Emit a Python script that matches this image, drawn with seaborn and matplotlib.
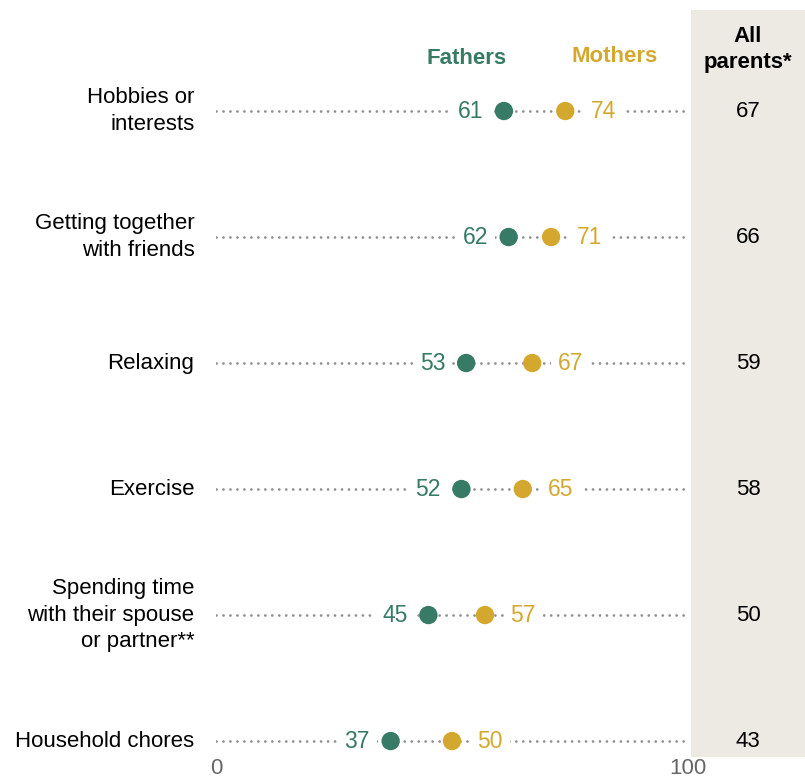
import matplotlib
matplotlib.use("Agg")
import matplotlib.pyplot as plt
from matplotlib.patches import Rectangle
import seaborn as sns
import pandas as pd

categories = [
    "Hobbies or\ninterests",
    "Getting together\nwith friends",
    "Relaxing",
    "Exercise",
    "Spending time\nwith their spouse\nor partner**",
    "Household chores",
]
fathers = [61, 62, 53, 52, 45, 37]
mothers = [74, 71, 67, 65, 57, 50]
all_parents = [67, 66, 59, 58, 50, 43]
x_ticks = [0, 100]

GREEN = "#377A65"
GOLD = "#D4A82F"
PANEL = "#EDEAE3"
FONT = ["Liberation Sans", "DejaVu Sans"]

sns.set_theme(style="white")
plt.rcParams["font.family"] = FONT

df = pd.DataFrame({
    "category": categories * 2,
    "row": list(range(len(categories))) * 2,
    "value": fathers + mothers,
    "group": ["Fathers"] * len(categories) + ["Mothers"] * len(categories),
})

fig = plt.figure(figsize=(8.05, 7.81), dpi=100)
ax = fig.add_axes([216 / 805, 0, 472 / 805, 1])
ax.set_xlim(0, 100)
ax.set_ylim(5.317, -0.881)
ax.axis("off")

# shaded column for the all-parents figures
ax.add_patch(Rectangle((100.6, -0.80), 25, 5.93, facecolor=PANEL,
                       edgecolor="none", clip_on=False, zorder=0))

# dotted guide lines spanning the 0-100 scale
for i in range(len(categories)):
    ax.plot([0, 100], [i, i], color="#8f8f8f", lw=2.0, ls=(0, (0.01, 2.5)),
            zorder=1, dash_capstyle="round")

sns.scatterplot(data=df, x="value", y="row", hue="group",
                palette={"Fathers": GREEN, "Mothers": GOLD},
                s=175, linewidth=0, legend=False, zorder=3, ax=ax)

box = dict(boxstyle="square,pad=0.3", facecolor="white", edgecolor="none")
for i, (f, m, a, cat) in enumerate(zip(fathers, mothers, all_parents, categories)):
    ax.text(f - 4.4, i, str(f), ha="right", va="center", fontsize=16.5,
            color=GREEN, bbox=box, zorder=2)
    ax.text(m + 5.4, i, str(m), ha="left", va="center", fontsize=16.5,
            color=GOLD, bbox=box, zorder=2)
    ax.text(112.7, i, str(a), ha="center", va="center", fontsize=16,
            color="black", zorder=4, clip_on=False)
    ax.text(-4.6, i, cat, ha="right", va="center", fontsize=16,
            color="black", linespacing=1.35, clip_on=False)

ax.text(53, -0.42, "Fathers", ha="center", va="center", fontsize=16,
        fontweight="bold", color=GREEN)
ax.text(84.5, -0.43, "Mothers", ha="center", va="center", fontsize=16,
        fontweight="bold", color=GOLD)
ax.text(112.7, -0.49, "All\nparents*", ha="center", va="center", fontsize=16,
        fontweight="bold", color="black", linespacing=1.3, clip_on=False)

for t in x_ticks:
    ax.text(t, 5.22, str(t), ha="center", va="center", fontsize=16,
            color="#666666", clip_on=False)

fig.savefig("out.png", dpi=100)
